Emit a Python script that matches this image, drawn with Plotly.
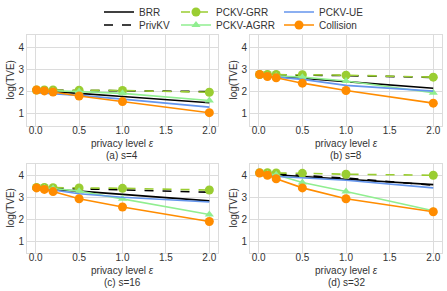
import plotly.graph_objects as go

eps = [0.01, 0.1, 0.2, 0.5, 1.0, 2.0]
panel_titles = ["(a) s=4", "(b) s=8", "(c) s=16", "(d) s=32"]
x_tick_vals = [0, 0.5, 1.0, 1.5, 2.0]
x_tick_text = ["0.0", "0.5", "1.0", "1.5", "2.0"]
y_tick_vals = [1, 2, 3, 4]

# log(TVE) per panel
brr = [
    [2.05, 2.03, 2.00, 1.92, 1.78, 1.50],
    [2.72, 2.70, 2.68, 2.60, 2.45, 2.15],
    [3.42, 3.40, 3.38, 3.30, 3.15, 2.85],
    [4.10, 4.08, 4.05, 3.97, 3.85, 3.60],
]
privkv = [
    [2.06, 2.06, 2.06, 2.05, 2.04, 2.00],
    [2.76, 2.76, 2.75, 2.74, 2.72, 2.64],
    [3.46, 3.45, 3.44, 3.42, 3.38, 3.25],
    [4.12, 4.11, 4.10, 4.02, 3.90, 3.57],
]
pckv_grr = [
    [2.07, 2.07, 2.07, 2.06, 2.05, 1.97],
    [2.77, 2.77, 2.77, 2.76, 2.74, 2.65],
    [3.47, 3.47, 3.46, 3.45, 3.43, 3.35],
    [4.15, 4.15, 4.14, 4.12, 4.08, 4.03],
]
pckv_agrr = [
    [2.05, 2.05, 2.04, 2.00, 1.92, 1.60],
    [2.72, 2.72, 2.70, 2.65, 2.48, 1.95],
    [3.45, 3.44, 3.42, 3.30, 2.95, 2.22],
    [4.12, 4.10, 4.05, 3.70, 3.28, 2.40],
]
pckv_ue = [
    [1.95, 1.93, 1.91, 1.83, 1.66, 1.30],
    [2.70, 2.68, 2.65, 2.55, 2.28, 2.02],
    [3.40, 3.38, 3.35, 3.18, 3.02, 2.80],
    [4.02, 4.00, 3.98, 3.92, 3.80, 3.45],
]
collision = [
    [2.07, 2.03, 1.98, 1.80, 1.55, 1.05],
    [2.77, 2.68, 2.62, 2.38, 2.05, 1.48],
    [3.45, 3.38, 3.28, 2.95, 2.57, 1.90],
    [4.13, 4.03, 3.87, 3.45, 2.95, 2.35],
]

W, H = 447, 291
# pixel boxes of the four axes (x0, x1, y0, y1) from top
boxes = [(27, 218, 35, 126), (250, 442, 35, 126), (27, 218, 164, 253), (250, 442, 164, 253)]

# name, data, line style, marker, legend id, legend text x (px), legend row y (px)
series = [
    ("BRR", brr, dict(color="black", width=1.6, dash="solid"), None, "legend", 125, 12),
    ("PrivKV", privkv, dict(color="black", width=1.6, dash="dash"), None, "legend2", 125, 25),
    ("PCKV-GRR", pckv_grr, dict(color="#9ACD32", width=1.6, dash="dash"), "circle", "legend3", 202, 12),
    ("PCKV-AGRR", pckv_agrr, dict(color="#90EE90", width=1.6, dash="solid"), "triangle-up", "legend4", 202, 25),
    ("PCKV-UE", pckv_ue, dict(color="#6495ED", width=1.6, dash="solid"), None, "legend5", 305, 12),
    ("Collision", collision, dict(color="#FF8C00", width=1.6, dash="solid"), "circle", "legend6", 305, 25),
]

fig = go.Figure()
font = "Liberation Sans, Arial, sans-serif"
txt = "#333333"

for i in range(4):
    sfx = "" if i == 0 else str(i + 1)
    for name, data, line, sym, leg, lx, ly in series:
        tr = dict(x=eps, y=data[i], name=name, line=line, xaxis="x" + sfx, yaxis="y" + sfx,
                  showlegend=(i == 0), legend=leg)
        if sym:
            tr["mode"] = "lines+markers"
            tr["marker"] = dict(symbol=sym, size=9 if sym == "circle" else 8, color=line["color"])
        else:
            tr["mode"] = "lines"
        fig.add_trace(go.Scatter(**tr))

annotations = []
for i, (x0, x1, y0, y1) in enumerate(boxes):
    sfx = "" if i == 0 else str(i + 1)
    xd = [x0 / W, x1 / W]
    yd = [1 - y1 / H, 1 - y0 / H]
    fig.layout["xaxis" + sfx] = dict(
        domain=xd, range=[-0.1, 2.1], tickvals=x_tick_vals, ticktext=x_tick_text,
        showgrid=True, gridcolor="#DCDCDC", gridwidth=1, zeroline=False,
        showline=True, linecolor="#DCDCDC", linewidth=1, mirror=True,
        ticks="", ticklabelstandoff=-5,
        tickfont=dict(size=10, color=txt, family=font), anchor="y" + sfx,
    )
    fig.layout["yaxis" + sfx] = dict(
        domain=yd, range=[0.45, 4.55], tickvals=y_tick_vals,
        showgrid=True, gridcolor="#DCDCDC", gridwidth=1, zeroline=False,
        showline=True, linecolor="#DCDCDC", linewidth=1, mirror=True,
        ticks="", tickfont=dict(size=10, color=txt, family=font), anchor="x" + sfx,
    )
    cx = (x0 + x1) / 2 / W
    annotations.append(dict(text="privacy level <i>ε</i>", x=cx, y=1 - (y1 + 17.5) / H, xref="paper", yref="paper",
                            showarrow=False, xanchor="center", yanchor="middle",
                            font=dict(size=10, color=txt, family=font)))
    annotations.append(dict(text=panel_titles[i], x=cx, y=1 - (y1 + 29.5) / H, xref="paper", yref="paper",
                            showarrow=False, xanchor="center", yanchor="middle",
                            font=dict(size=10, color=txt, family=font)))
    annotations.append(dict(text="log(TVE)", x=(x0 - 17) / W, y=1 - (y0 + y1) / 2 / H, xref="paper", yref="paper",
                            showarrow=False, xanchor="center", yanchor="middle", textangle=-90,
                            font=dict(size=10, color=txt, family=font)))

legends = {}
for name, data, line, sym, leg, lx, ly in series:
    legends[leg] = dict(orientation="h", xanchor="left", yanchor="middle",
                        x=(lx - 26) / W, y=1 - ly / H,
                        font=dict(size=10, color=txt, family=font), bgcolor="rgba(0,0,0,0)",
                        itemwidth=30)

fig.update_layout(
    width=W, height=H, margin=dict(l=0, r=0, t=0, b=0, autoexpand=False),
    paper_bgcolor="white", plot_bgcolor="white",
    annotations=annotations,
    font=dict(family=font, color=txt),
    **legends,
)

fig.write_html("out.html", config={"displayModeBar": False},
               post_script="document.body.style.margin='0';document.body.style.padding='0';")
